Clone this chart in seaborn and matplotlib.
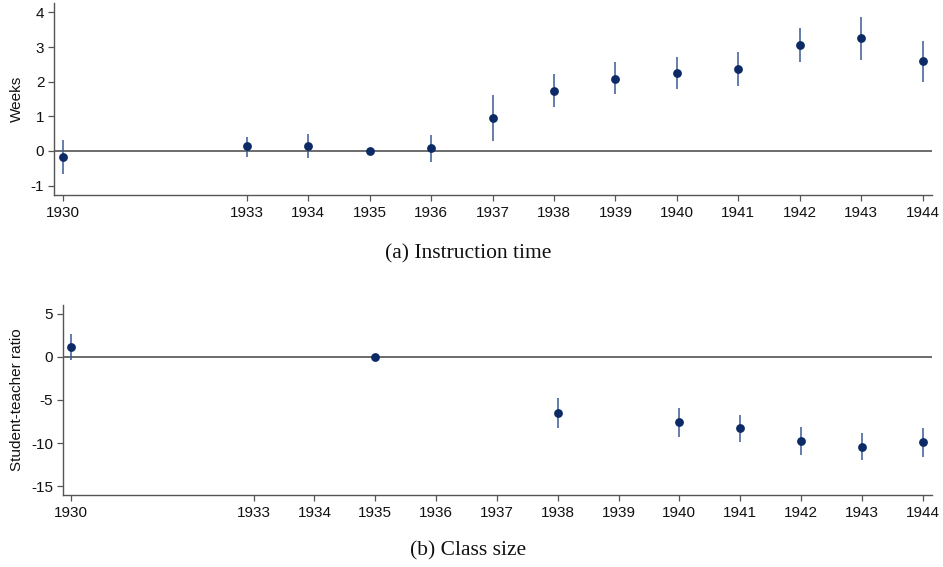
import matplotlib
matplotlib.use("Agg")
import matplotlib.pyplot as plt
import seaborn as sns
import pandas as pd

# Panel (a): instruction time (weeks)
years_a = [1930, 1933, 1934, 1935, 1936, 1937, 1938, 1939, 1940, 1941, 1942, 1943, 1944]
coef_a = [-0.17, 0.13, 0.14, 0.0, 0.08, 0.94, 1.74, 2.09, 2.25, 2.37, 3.06, 3.25, 2.59]
lo_a = [-0.66, -0.16, -0.20, 0.0, -0.31, 0.28, 1.27, 1.63, 1.80, 1.87, 2.58, 2.63, 2.00]
hi_a = [0.32, 0.41, 0.48, 0.0, 0.45, 1.61, 2.22, 2.57, 2.71, 2.86, 3.54, 3.88, 3.17]

# Panel (b): class size (student-teacher ratio)
years_b = [1930, 1935, 1938, 1940, 1941, 1942, 1943, 1944]
coef_b = [1.12, 0.0, -6.5, -7.6, -8.27, -9.73, -10.4, -9.92]
lo_b = [-0.38, 0.0, -8.2, -9.3, -9.85, -11.35, -12.0, -11.65]
hi_b = [2.6, 0.0, -4.8, -5.96, -6.7, -8.1, -8.77, -8.2]

xticks = [1930, 1933, 1934, 1935, 1936, 1937, 1938, 1939, 1940, 1941, 1942, 1943, 1944]
yticks_a = [-1, 0, 1, 2, 3, 4]
yticks_b = [-15, -10, -5, 0, 5]

sns.set_theme(style="white")
plt.rcParams["font.family"] = ["Liberation Sans", "DejaVu Sans"]

fig = plt.figure(figsize=(9.43, 5.67), dpi=100)
ax1 = fig.add_axes([0.0573, 0.6561, 0.9308, 0.3386])
ax2 = fig.add_axes([0.0665, 0.1270, 0.9215, 0.3351])

dot_color = "#0b2a66"
bar_color = "#3a5a96"
axis_color = "#555555"

def panel(ax, years, coef, lo, hi, yticks, ylim, ylabel):
    df = pd.DataFrame({"year": years, "coef": coef, "lo": lo, "hi": hi})
    ax.axhline(0, color="#444444", lw=1.1, zorder=1)
    ax.vlines(df["year"], df["lo"], df["hi"], color=bar_color, lw=1.1, zorder=2)
    sns.scatterplot(data=df, x="year", y="coef", ax=ax, s=40, color=dot_color,
                    edgecolor=dot_color, linewidth=0, zorder=3)
    ax.set_xlim(1929.86, 1944.15)
    ax.set_ylim(*ylim)
    ax.set_xticks(xticks)
    ax.set_xticklabels([str(x) for x in xticks])
    ax.set_yticks(yticks)
    ax.set_yticklabels([str(y) for y in yticks])
    ax.set_xlabel("")
    ax.set_ylabel(ylabel, fontsize=11, color="#111111", labelpad=5)
    for s in ["top", "right"]:
        ax.spines[s].set_visible(False)
    for s in ["left", "bottom"]:
        ax.spines[s].set_color(axis_color)
        ax.spines[s].set_linewidth(1.0)
    ax.tick_params(axis="both", which="major", direction="out", length=4.5,
                   width=0.9, color=axis_color, labelsize=11, labelcolor="#111111",
                   bottom=True, left=True)
    ax.tick_params(axis="x", pad=3.5)
    ax.tick_params(axis="y", pad=2.5)

panel(ax1, years_a, coef_a, lo_a, hi_a, yticks_a, (-1.27, 4.27), "Weeks")
panel(ax2, years_b, coef_b, lo_b, hi_b, yticks_b, (-16, 6), "Student-teacher ratio")

fig.text(0.496, 1 - 254 / 567, "(a) Instruction time", ha="center", va="center",
         fontsize=15.5, family=["Liberation Serif", "DejaVu Serif"], color="#111111")
fig.text(0.496, 1 - 551 / 567, "(b) Class size", ha="center", va="center",
         fontsize=15.5, family=["Liberation Serif", "DejaVu Serif"], color="#111111")

fig.savefig("out.png", dpi=100)
